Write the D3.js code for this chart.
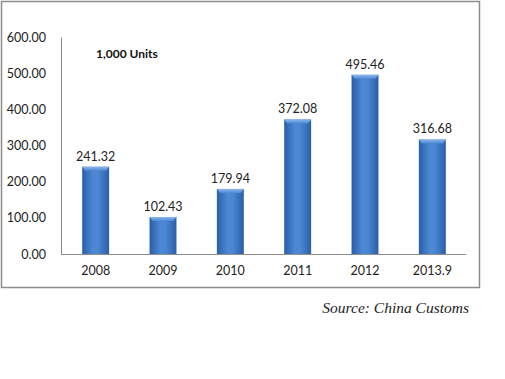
<!DOCTYPE html>
<html>
<head>
<meta charset="utf-8">
<script src="https://cdn.jsdelivr.net/npm/d3@7"></script>
<style>
  body { margin: 0; background: #fff; }
  svg { display: block; }
</style>
</head>
<body>
<svg id="chart" width="505" height="379"></svg>
<script>
var years = ['2008', '2009', '2010', '2011', '2012', '2013.9'];
var units = [241.32, 102.43, 179.94, 372.08, 495.46, 316.68];
var yTicks = [0, 100, 200, 300, 400, 500, 600];

var svg = d3.select('#chart');
var font = 'Lato, "Open Sans", sans-serif';

// outer frame
svg.append('rect')
    .attr('x', 1.5).attr('y', 1.5)
    .attr('width', 478).attr('height', 286)
    .attr('fill', 'none')
    .attr('stroke', '#8c8c8c')
    .attr('stroke-width', 1.5);

var x = d3.scaleBand().domain(years).range([62, 466]).paddingInner(0.6).paddingOuter(0.3);
var y = d3.scaleLinear().domain([0, 600]).range([254, 37]);

// bar gradient (cylinder look)
var defs = svg.append('defs');
var grad = defs.append('linearGradient').attr('id', 'barGrad')
    .attr('x1', '0%').attr('x2', '100%').attr('y1', '0%').attr('y2', '0%');
grad.append('stop').attr('offset', '0%').attr('stop-color', '#2a5ea8');
grad.append('stop').attr('offset', '40%').attr('stop-color', '#4c88d4');
grad.append('stop').attr('offset', '60%').attr('stop-color', '#4a86d2');
grad.append('stop').attr('offset', '100%').attr('stop-color', '#2a5ea8');

var topGrad = defs.append('linearGradient').attr('id', 'topGrad')
    .attr('x1', '0%').attr('x2', '0%').attr('y1', '0%').attr('y2', '100%');
topGrad.append('stop').attr('offset', '0%').attr('stop-color', '#8db8ec');
topGrad.append('stop').attr('offset', '100%').attr('stop-color', '#4c88d4');

// y axis
var yAxis = d3.axisLeft(y).tickValues(yTicks).tickSize(0).tickPadding(15)
    .tickFormat(d3.format('.2f'));
var gy = svg.append('g').attr('transform', 'translate(61,0)').call(yAxis);
gy.select('.domain').attr('stroke', '#8c8c8c');
gy.selectAll('text').attr('font-family', font).attr('font-size', 12.5).attr('fill', '#222');

// x axis
var xAxis = d3.axisBottom(x).tickSize(0).tickPadding(12);
var gx = svg.append('g').attr('transform', 'translate(0,254)').call(xAxis);
gx.select('.domain').attr('stroke', '#8c8c8c').attr('d', 'M61,0.5H466');
gx.selectAll('text').attr('font-family', font).attr('font-size', 12.5).attr('fill', '#222');

// bars
var bars = svg.append('g').selectAll('g').data(years).enter().append('g');
bars.append('rect')
    .attr('x', function(d) { return x(d); })
    .attr('y', function(d, i) { return y(units[i]); })
    .attr('width', x.bandwidth())
    .attr('height', function(d, i) { return y(0) - y(units[i]); })
    .attr('fill', 'url(#barGrad)');
bars.append('path')
    .attr('d', function(d, i) {
        var x0 = x(d), w = x.bandwidth(), t = y(units[i]);
        return 'M' + x0 + ',' + t + 'H' + (x0 + w) + 'L' + (x0 + w - 3) + ',' + (t + 4) +
            'H' + (x0 + 3) + 'Z';
    })
    .attr('fill', 'url(#topGrad)');

// value labels
bars.append('text')
    .attr('x', function(d) { return x(d) + x.bandwidth() / 2; })
    .attr('y', function(d, i) { return y(units[i]) - 6; })
    .attr('text-anchor', 'middle')
    .attr('font-family', font).attr('font-size', 12.5).attr('fill', '#222')
    .text(function(d, i) { return d3.format('.2f')(units[i]); });

// unit label
svg.append('text')
    .attr('x', 96).attr('y', 58)
    .attr('font-family', font).attr('font-size', 12).attr('font-weight', 'bold')
    .attr('fill', '#111')
    .text('1,000 Units');

// source
svg.append('text')
    .attr('x', 469).attr('y', 313)
    .attr('text-anchor', 'end')
    .attr('font-family', '"Liberation Serif", "DejaVu Serif", serif')
    .attr('font-style', 'italic').attr('font-size', 15.5).attr('fill', '#222')
    .text('Source: China Customs');
</script>
</body>
</html>
